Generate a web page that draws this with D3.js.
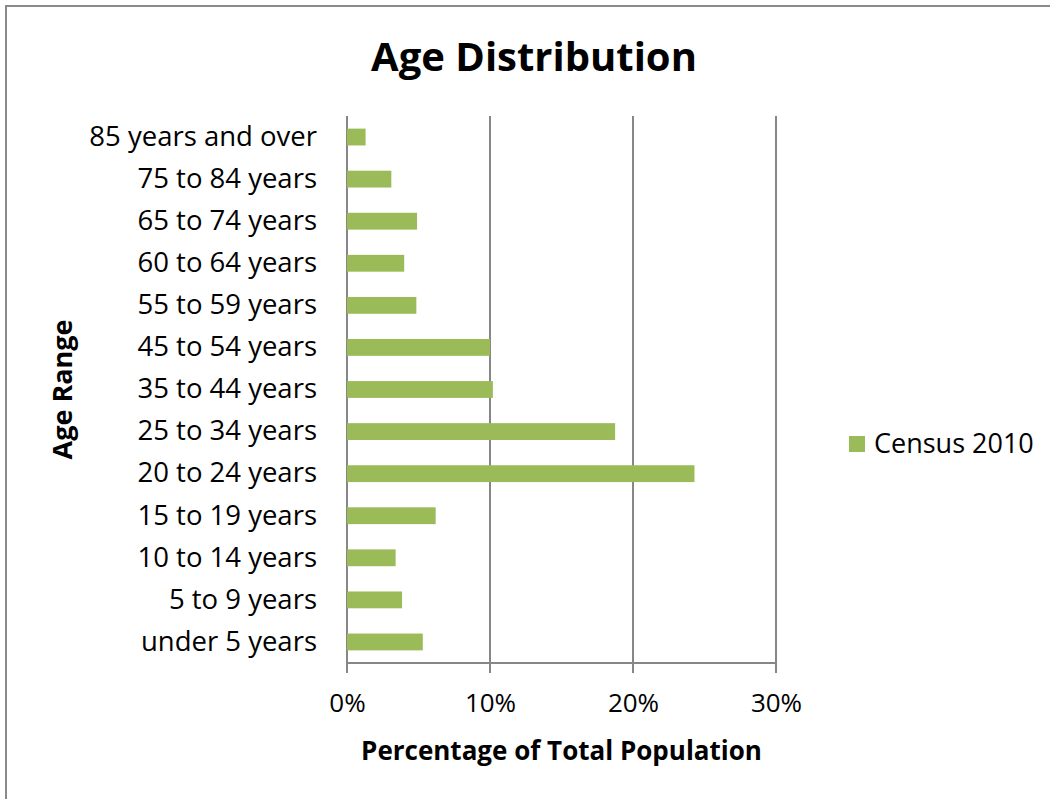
<!DOCTYPE html>
<html>
<head>
<meta charset="utf-8">
<script src="https://cdn.jsdelivr.net/npm/d3@7"></script>
<style>
  body { margin: 0; background: #fff; }
  text { font-family: "Open Sans", sans-serif; fill: #000; }
</style>
</head>
<body>
<script>
// data, bottom to top as in the picture
const categories = ["under 5 years", "5 to 9 years", "10 to 14 years", "15 to 19 years",
  "20 to 24 years", "25 to 34 years", "35 to 44 years", "45 to 54 years",
  "55 to 59 years", "60 to 64 years", "65 to 74 years", "75 to 84 years", "85 years and over"];
const census2010 = [5.3, 3.85, 3.4, 6.2, 24.3, 18.75, 10.2, 10.0, 4.85, 4.0, 4.9, 3.1, 1.3];
const xTicks = [0, 10, 20, 30];
const seriesName = "Census 2010";

const W = 1050, H = 799;
const plotLeft = 347, plotRight = 776, plotTop = 116, plotBottom = 663;
const BAR = '#9bbb59', GRID = '#878787';

const svg = d3.select('body').append('svg')
  .attr('width', W).attr('height', H);

svg.append('rect')
  .attr('x', 6).attr('y', 6).attr('width', W + 10).attr('height', H + 10)
  .attr('fill', '#fff').attr('stroke', '#8a8a8a').attr('stroke-width', 2);

const x = d3.scaleLinear().domain([0, 30]).range([plotLeft, plotRight]);
const y = d3.scaleBand().domain(categories.slice().reverse()).range([plotTop, plotBottom])
  .paddingInner(0.6).paddingOuter(0.3);

// vertical gridlines (extend below axis as ticks)
svg.append('g').selectAll('line').data(xTicks).join('line')
  .attr('x1', d => x(d)).attr('x2', d => x(d))
  .attr('y1', plotTop).attr('y2', plotBottom + 10)
  .attr('stroke', GRID).attr('stroke-width', 2);

// bars
svg.append('g').selectAll('rect').data(categories).join('rect')
  .attr('x', x(0))
  .attr('y', d => y(d))
  .attr('width', (d, i) => x(census2010[i]) - x(0))
  .attr('height', y.bandwidth())
  .attr('fill', BAR);

// axis line
svg.append('line').attr('x1', x(0)).attr('x2', plotRight + 1)
  .attr('y1', plotBottom).attr('y2', plotBottom)
  .attr('stroke', GRID).attr('stroke-width', 2);

// category labels
const yAxis = d3.axisLeft(y).tickSize(0).tickPadding(30);
const gy = svg.append('g').attr('transform', `translate(${plotLeft},0)`).call(yAxis);
gy.select('.domain').remove();
gy.selectAll('text').style('font-size', '27.5px').style('font-family', '"Open Sans", sans-serif');

// x tick labels
const xAxis = d3.axisBottom(x).tickValues(xTicks).tickSize(0).tickPadding(31)
  .tickFormat(d => d + '%');
const gx = svg.append('g').attr('transform', `translate(0,${plotBottom})`).call(xAxis);
gx.select('.domain').remove();
gx.selectAll('text').style('font-size', '26px').style('font-family', '"Open Sans", sans-serif');

// titles
svg.append('text').attr('x', 534).attr('y', 71).attr('text-anchor', 'middle')
  .style('font-size', '40px').style('font-weight', 'bold').text('Age Distribution');

svg.append('text').attr('x', (plotLeft + plotRight) / 2).attr('y', 760).attr('text-anchor', 'middle')
  .style('font-size', '26px').style('font-weight', 'bold').text('Percentage of Total Population');

svg.append('text').attr('transform', `translate(72,${(plotTop + plotBottom) / 2}) rotate(-90)`)
  .attr('text-anchor', 'middle')
  .style('font-size', '27px').style('font-weight', 'bold').text('Age Range');

// legend
const lg = svg.append('g').attr('transform', 'translate(849,436)');
lg.append('rect').attr('width', 16).attr('height', 16).attr('fill', BAR);
lg.append('text').attr('x', 25).attr('y', 8).attr('dy', '0.35em')
  .style('font-size', '27px').text(seriesName);
</script>
</body>
</html>
